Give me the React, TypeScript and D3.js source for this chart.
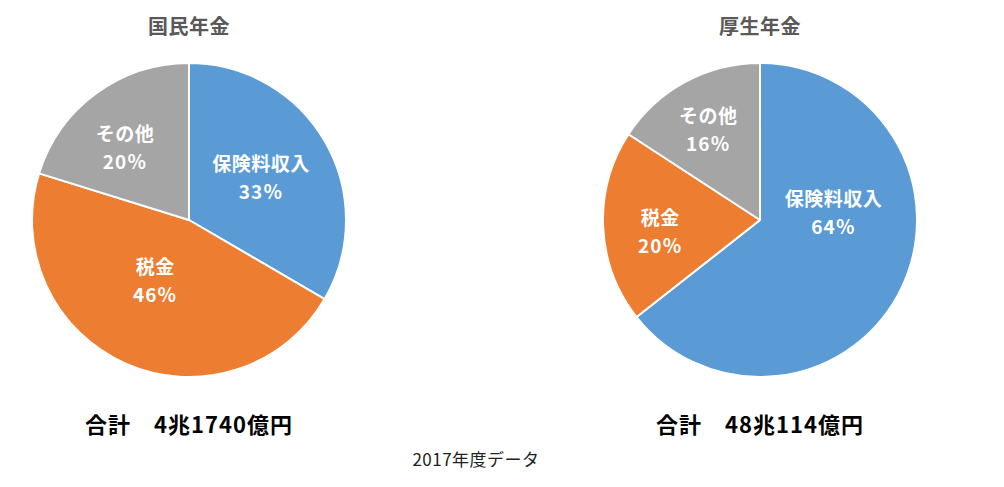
import React, { useEffect, useRef } from 'react';
import * as d3 from 'd3';

const categories = ['保険料収入', '税金', 'その他'];
const kokuminValues = [33.4, 46.4, 20.2];
const kouseiValues = [64.4, 19.8, 15.8];
const titles = ['国民年金', '厚生年金'];
const totals = ['合計　4兆1740億円', '合計　48兆114億円'];
const footnote = '2017年度データ';

const colors = ['#5B9BD5', '#ED7D31', '#A5A5A5'];

// where Excel dropped each data label: [angle in degrees, fraction of radius]
const kokuminLabelPos = [[60, 0.53], [209, 0.445], [318, 0.61]];
const kouseiLabelPos = [[85, 0.47], [263, 0.64], [330, 0.66]];

const App = () => {
  const svgRef = useRef<SVGSVGElement>(null);

  useEffect(() => {
    document.body.style.margin = '0';
    const width = 1004;
    const height = 487;
    const radius = 157;
    const font = "'Noto Sans CJK JP', 'Noto Sans', sans-serif";

    const svg = d3.select(svgRef.current);
    svg.selectAll('*').remove();
    svg.attr('width', width).attr('height', height).attr('viewBox', [0, 0, width, height]);

    const cx = d3.scalePoint<number>().domain([0, 1]).range([189, 760]);

    const pie = d3.pie<number>().sort(null).value(d => d);
    const arc = d3.arc<d3.PieArcDatum<number>>().innerRadius(0).outerRadius(radius);

    const charts = [
      { values: kokuminValues, labels: kokuminLabelPos },
      { values: kouseiValues, labels: kouseiLabelPos }
    ];

    charts.forEach((c, i) => {
      const g = svg.append('g').attr('transform', `translate(${cx(i)},220)`);
      const arcs = pie(c.values);
      const sum = d3.sum(c.values);

      g.selectAll('path')
        .data(arcs)
        .join('path')
        .attr('d', arc)
        .attr('fill', (_, j) => colors[j])
        .attr('stroke', '#fff')
        .attr('stroke-width', 2)
        .attr('stroke-linejoin', 'round');

      const lbl = g.selectAll('g.lbl')
        .data(arcs)
        .join('g')
        .attr('class', 'lbl')
        .attr('transform', (_, j) => {
          const [deg, f] = c.labels[j];
          const a = (deg * Math.PI) / 180;
          return `translate(${Math.sin(a) * radius * f},${-Math.cos(a) * radius * f})`;
        })
        .attr('text-anchor', 'middle')
        .attr('fill', '#fff')
        .style('font-family', font)
        .style('font-weight', 'bold')
        .style('font-size', '19px');

      lbl.append('text')
        .attr('y', -14)
        .attr('dy', '0.35em')
        .style('letter-spacing', '0.5px')
        .text((_, j) => categories[j]);
      lbl.append('text')
        .attr('y', 14)
        .attr('dy', '0.35em')
        .style('letter-spacing', '1px')
        .text(d => `${Math.round((d.value / sum) * 100)}％`);

      svg.append('text')
        .attr('x', cx(i))
        .attr('y', 27)
        .attr('dy', '0.35em')
        .attr('text-anchor', 'middle')
        .attr('fill', '#595959')
        .style('font-family', font)
        .style('font-weight', 'bold')
        .style('font-size', '20px')
        .style('letter-spacing', '0.5px')
        .text(titles[i]);

      svg.append('text')
        .attr('x', cx(i))
        .attr('y', 425)
        .attr('dy', '0.35em')
        .attr('text-anchor', 'middle')
        .attr('fill', '#000')
        .style('font-family', font)
        .style('font-weight', 'bold')
        .style('font-size', '22px')
        .style('letter-spacing', '1px')
        .text(totals[i]);
    });

    svg.append('text')
      .attr('x', 476)
      .attr('y', 460)
      .attr('dy', '0.35em')
      .attr('text-anchor', 'middle')
      .attr('fill', '#222')
      .style('font-family', font)
      .style('font-size', '17px')
      .style('letter-spacing', '0.5px')
      .text(footnote);
  }, []);

  return <svg ref={svgRef}></svg>;
};

export default App;
